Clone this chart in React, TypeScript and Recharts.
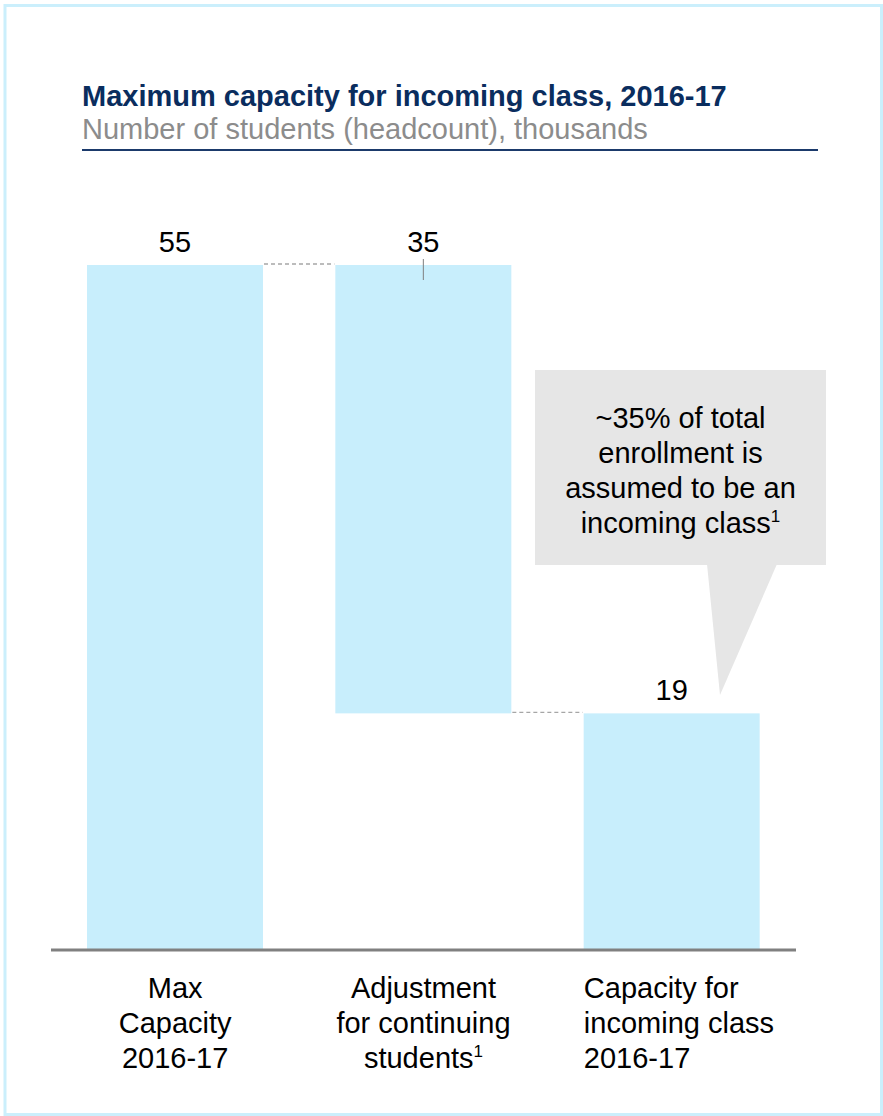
import React from "react";
import { BarChart, Bar, XAxis, YAxis, LabelList } from "recharts";

// categories, with their line breaks as printed ("^" marks a footnote number)
const categoryLines = [
  ["Max", "Capacity", "2016-17"],
  ["Adjustment", "for continuing", "students^1"],
  ["Capacity for", "incoming class", "2016-17"],
];

// waterfall: each bar runs from low to high (thousands of students)
const barLows = [0, 19, 0];
const barHighs = [55, 55, 19];
const valueLabels = ["55", "35", "19"];

const calloutLines = ["~35% of total", "enrollment is", "assumed to be an", "incoming class^1"];

const W = 883;
const H = 1116;
const FONT = "'Liberation Sans', Arial, sans-serif";
const BAR_FILL = "#c8eefc";
const M = { top: 265, right: 87, bottom: 0, left: 51 };
const BAR_SIZE = 176;
const BAND = (W - M.left - M.right) / categoryLines.length;
const GAP = BAND - BAR_SIZE;

const data = categoryLines.map((lines, i) => ({
  name: lines.join(" "),
  range: [barLows[i], barHighs[i]],
}));

// text with an optional raised footnote number
function withNote(line: string) {
  const [main, note] = line.split("^");
  return (
    <>
      {main}
      {note && (
        <tspan fontSize={17} dy={-11}>
          {note}
        </tspan>
      )}
    </>
  );
}

function WaterfallBar(props: any) {
  const { x, y, width, height, index } = props;
  let connector = null;
  if (index < barHighs.length - 1) {
    // the next bar starts where this one ends
    const atTop = barHighs[index + 1] === barHighs[index];
    const cy = atTop ? y - 1 : y + height - 1;
    connector = (
      <line
        x1={x + width + 1}
        x2={x + width + GAP - 1}
        y1={cy}
        y2={cy}
        stroke="#a6a6a6"
        strokeWidth={1.3}
        strokeDasharray="4 3"
      />
    );
  }
  return (
    <g>
      <rect x={x} y={y} width={width} height={height} fill={BAR_FILL} />
      {connector}
    </g>
  );
}

function ValueLabel(props: any) {
  const { x, y, width, index } = props;
  const cx = x + width / 2;
  const floating = barLows[index] > 0;
  return (
    <g>
      <text x={cx} y={y - 13} textAnchor="middle" fontSize={29} fontFamily={FONT} fill="#000">
        {valueLabels[index]}
      </text>
      {floating && <line x1={cx} x2={cx} y1={y - 6} y2={y + 15} stroke="#7f7f7f" strokeWidth={1} />}
    </g>
  );
}

function CategoryTick(props: any) {
  const { x, y, index } = props;
  const last = index === categoryLines.length - 1;
  const tx = last ? x - BAR_SIZE / 2 : x;
  return (
    <g>
      {categoryLines[index].map((line, k) => (
        <text
          key={k}
          x={tx}
          y={y + 48 + k * 35}
          textAnchor={last ? "start" : "middle"}
          fontSize={29}
          fontFamily={FONT}
          fill="#000"
        >
          {withNote(line)}
        </text>
      ))}
    </g>
  );
}

export default function App() {
  return (
    <div style={{ position: "absolute", left: 0, top: 0, width: W, height: H, background: "#fff" }}>
      <BarChart width={W} height={H} data={data} margin={M}>
        <YAxis hide domain={[0, 55]} width={0} />
        <XAxis
          dataKey="name"
          height={166}
          interval={0}
          tickLine={false}
          tickSize={0}
          tickMargin={0}
          axisLine={{ stroke: "#808080", strokeWidth: 3 }}
          tick={<CategoryTick />}
        />
        <Bar dataKey="range" barSize={BAR_SIZE} shape={<WaterfallBar />} isAnimationActive={false}>
          <LabelList dataKey="range" content={<ValueLabel />} />
        </Bar>
      </BarChart>
      <svg
        width={W}
        height={H}
        style={{ position: "absolute", left: 0, top: 0, pointerEvents: "none" }}
      >
        <rect x={5} y={5.5} width={876.5} height={1109} fill="none" stroke="#cbeffc" strokeWidth={3} />
        <text x={82} y={106} fontSize={29} fontWeight="bold" fontFamily={FONT} fill="#0a2d5e">
          Maximum capacity for incoming class, 2016-17
        </text>
        <text x={82} y={139} fontSize={29} fontFamily={FONT} fill="#8c8c8c">
          Number of students (headcount), thousands
        </text>
        <line x1={82} x2={818} y1={150} y2={150} stroke="#1b3a6b" strokeWidth={2} />
        <rect x={535} y={370} width={291} height={195} fill="#e6e6e6" />
        <polygon points="707,564 777,564 720,695" fill="#e6e6e6" />
        {calloutLines.map((line, k) => (
          <text
            key={k}
            x={680.5}
            y={428 + k * 35}
            textAnchor="middle"
            fontSize={29}
            fontFamily={FONT}
            fill="#000"
          >
            {withNote(line)}
          </text>
        ))}
      </svg>
    </div>
  );
}
